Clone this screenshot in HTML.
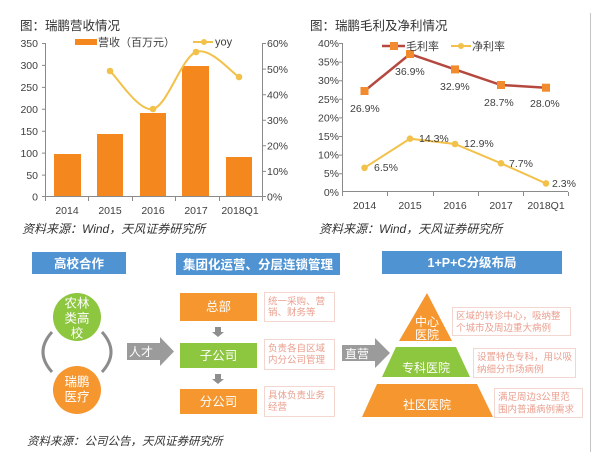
<!DOCTYPE html>
<html><head><meta charset="utf-8"><style>
html,body{margin:0;padding:0;background:#fff;}
svg{display:block;}
text{font-family:"Liberation Sans","Noto Sans CJK SC",sans-serif;}
.ax{font-size:10.5px;fill:#404040;}
.ttl{font-size:12.5px;fill:#333;}
.src{font-size:12px;fill:#333;font-style:italic;}
.dl{font-size:10.5px;fill:#404040;}
.hd{font-size:12.5px;fill:#fff;font-weight:bold;}
.bx{font-size:12.5px;fill:#fff;}
.ds{font-size:9.5px;fill:#eaa090;}
</style></head><body>
<svg width="606" height="470" viewBox="0 0 606 470" xmlns="http://www.w3.org/2000/svg">
<rect width="606" height="470" fill="#fff"/>
<!-- right separator -->
<line x1="590.5" y1="13" x2="590.5" y2="452" stroke="#c4c4c4" stroke-width="1"/>

<!-- ============ Chart 1 ============ -->
<text class="ttl" x="20" y="30">图：瑞鹏营收情况</text>
<!-- bars -->
<g fill="#F5871F">
<rect x="54" y="154" width="27" height="42.5"/>
<rect x="97" y="134" width="26" height="62.5"/>
<rect x="140" y="113" width="26" height="83.5"/>
<rect x="182" y="66" width="27" height="130.5"/>
<rect x="226" y="157" width="26" height="39.5"/>
</g>
<!-- axes -->
<g stroke="#8a8a8a" stroke-width="1" fill="none">
<line x1="45.5" y1="43" x2="45.5" y2="197"/>
<line x1="45" y1="196.5" x2="262" y2="196.5"/>
<line x1="262.5" y1="43" x2="262.5" y2="197"/>
<path d="M42 43.5H45 M42 65.4H45 M42 87.4H45 M42 109.3H45 M42 131.2H45 M42 153.1H45 M42 175.1H45 M42 196.5H45"/>
<path d="M262 43.5H266 M262 69.1H266 M262 94.7H266 M262 120.3H266 M262 145.8H266 M262 171.4H266 M262 196.5H266"/>
<path d="M45.5 197V201 M88.5 197V201 M132.5 197V201 M175.5 197V201 M219.5 197V201 M262.5 197V201"/>
</g>
<g class="ax" text-anchor="end">
<text x="38" y="47">350</text><text x="38" y="69">300</text><text x="38" y="91">250</text>
<text x="38" y="113">200</text><text x="38" y="135">150</text><text x="38" y="157">100</text>
<text x="38" y="179">50</text><text x="38" y="200.5">0</text>
</g>
<g class="ax">
<text x="267" y="47">60%</text><text x="267" y="73">50%</text><text x="267" y="98.5">40%</text>
<text x="267" y="124">30%</text><text x="267" y="149.5">20%</text><text x="267" y="175">10%</text>
<text x="267" y="200.5">0%</text>
</g>
<g class="ax" text-anchor="middle">
<text x="67" y="214">2014</text><text x="110" y="214">2015</text><text x="153" y="214">2016</text>
<text x="196" y="214">2017</text><text x="240" y="214">2018Q1</text>
</g>
<!-- yoy curve -->
<path d="M110 71 C117.2 77.3 138.7 112.2 153 109 C167.3 105.8 181.7 57.3 196 52 C210.3 46.7 231.8 72.8 239 77" fill="none" stroke="#F2C14A" stroke-width="2"/>
<g fill="#F2C14A">
<circle cx="110" cy="71" r="3.3"/><circle cx="153" cy="109" r="3.3"/>
<circle cx="196" cy="52" r="3.3"/><circle cx="239" cy="77" r="3.3"/>
</g>
<!-- legend -->
<rect x="75" y="39" width="22" height="6" fill="#F5871F"/>
<text class="ax" x="98" y="46" style="font-size:11px">营收（百万元）</text>
<line x1="193" y1="42" x2="213" y2="42" stroke="#F2C14A" stroke-width="2"/>
<circle cx="204" cy="42" r="3" fill="#F2C14A"/>
<text class="ax" x="215" y="45.5" style="font-size:11px">yoy</text>
<text class="src" x="22" y="233">资料来源：Wind，天风证券研究所</text>

<!-- ============ Chart 2 ============ -->
<text class="ttl" x="310" y="30">图：瑞鹏毛利及净利情况</text>
<g stroke="#8a8a8a" stroke-width="1" fill="none">
<line x1="342.5" y1="43" x2="342.5" y2="192"/>
<line x1="342" y1="191.5" x2="568" y2="191.5"/>
<path d="M339 43.5H342 M339 62.1H342 M339 80.7H342 M339 99.3H342 M339 117.9H342 M339 136.5H342 M339 155.1H342 M339 173.7H342"/>
<path d="M342.5 192V196 M387.5 192V196 M433.5 192V196 M478.5 192V196 M523.5 192V196 M568.5 192V196"/>
</g>
<g class="ax" text-anchor="end">
<text x="339" y="47">40%</text><text x="339" y="65.6">35%</text><text x="339" y="84.2">30%</text>
<text x="339" y="102.8">25%</text><text x="339" y="121.4">20%</text><text x="339" y="140">15%</text>
<text x="339" y="158.6">10%</text><text x="339" y="177.2">5%</text><text x="339" y="195.8">0%</text>
</g>
<g class="ax" text-anchor="middle">
<text x="364.5" y="209">2014</text><text x="410" y="209">2015</text><text x="455" y="209">2016</text>
<text x="501" y="209">2017</text><text x="546" y="209">2018Q1</text>
</g>
<!-- gross margin -->
<polyline points="364.5,91 410,54 455,69.4 501,85 546,87.7" fill="none" stroke="#B5493F" stroke-width="2.5"/>
<g fill="#F28A2E">
<rect x="360.5" y="87" width="8" height="8"/><rect x="406" y="50" width="8" height="8"/>
<rect x="451" y="65.4" width="8" height="8"/><rect x="497" y="81" width="8" height="8"/>
<rect x="542" y="83.7" width="8" height="8"/>
</g>
<!-- net margin -->
<polyline points="364.5,167.8 410,138.7 455,144 501,163.3 546,183.4" fill="none" stroke="#F2C14A" stroke-width="2"/>
<g fill="#F2C14A">
<circle cx="364.5" cy="167.8" r="3.3"/><circle cx="410" cy="138.7" r="3.3"/><circle cx="455" cy="144" r="3.3"/>
<circle cx="501" cy="163.3" r="3.3"/><circle cx="546" cy="183.4" r="3.3"/>
</g>
<g class="dl">
<text x="350" y="112">26.9%</text><text x="395" y="75">36.9%</text><text x="440" y="90">32.9%</text>
<text x="484" y="106">28.7%</text><text x="530" y="107">28.0%</text>
<text x="374" y="171">6.5%</text><text x="419" y="142">14.3%</text><text x="464" y="147">12.9%</text>
<text x="509" y="167">7.7%</text><text x="552" y="187">2.3%</text>
</g>
<!-- legend -->
<line x1="382" y1="46" x2="405" y2="46" stroke="#B5493F" stroke-width="2.5"/>
<rect x="390" y="42" width="8" height="8" fill="#F28A2E"/>
<text class="ax" x="406" y="50" style="font-size:11px">毛利率</text>
<line x1="451" y1="46" x2="471" y2="46" stroke="#F2C14A" stroke-width="2"/>
<circle cx="461" cy="46" r="3" fill="#F2C14A"/>
<text class="ax" x="472" y="50" style="font-size:11px">净利率</text>
<text class="src" x="319" y="233">资料来源：Wind，天风证券研究所</text>

<!-- ============ Bottom diagram ============ -->
<g fill="#4F93D3">
<rect x="32" y="252" width="94" height="22"/>
<rect x="176" y="253" width="164" height="22"/>
<rect x="382" y="251" width="180" height="23"/>
</g>
<g class="hd" text-anchor="middle">
<text x="79" y="268">高校合作</text>
<text x="258" y="269">集团化运营、分层连锁管理</text>
<text x="472" y="267">1+P+C分级布局</text>
</g>
<!-- circles -->
<path d="M52 332 Q34 352 52 372" fill="none" stroke="#8c8c8c" stroke-width="3"/>
<path d="M102 332 Q120 352 102 372" fill="none" stroke="#8c8c8c" stroke-width="3"/>
<circle cx="77" cy="317" r="24" fill="#8DC63F"/>
<circle cx="77" cy="390" r="24" fill="#F5962F"/>
<g class="bx" text-anchor="middle" style="font-size:12.5px">
<text x="77" y="307.5">农林</text><text x="77" y="322.5">类高</text><text x="77" y="337.5">校</text>
<text x="77" y="386">瑞鹏</text><text x="77" y="401">医疗</text>
</g>
<!-- 人才 arrow -->
<path d="M127 343 H160 V337 L174 351.5 L160 366 V360 H127 Z" fill="#9b9b9b"/>
<text class="bx" x="141" y="356" text-anchor="middle" style="font-size:12px">人才</text>
<!-- boxes -->
<rect x="180" y="293" width="77" height="28" fill="#F5962F"/>
<rect x="180" y="343" width="77" height="25" fill="#8DC63F"/>
<rect x="180" y="389" width="77" height="25" fill="#F5962F"/>
<path d="M215 327 h6 v5 h3 l-6 5 l-6 -5 h3 z" fill="#8e8e8e"/>
<path d="M215 374 h6 v5 h3 l-6 5 l-6 -5 h3 z" fill="#8e8e8e"/>
<g class="bx" text-anchor="middle">
<text x="218.5" y="311">总部</text><text x="218.5" y="360">子公司</text><text x="218.5" y="406">分公司</text>
</g>
<g fill="#fff" stroke="#f2d6cf" stroke-width="1">
<rect x="264.5" y="292.5" width="70" height="29"/>
<rect x="264.5" y="339.5" width="70" height="30"/>
<rect x="264.5" y="386.5" width="70" height="30"/>
</g>
<g class="ds">
<text x="268" y="304.5">统一采购、营</text><text x="268" y="315.5">销、财务等</text>
<text x="268" y="351.5">负责各自区域</text><text x="268" y="363">内分公司管理</text>
<text x="268" y="398.5">具体负责业务</text><text x="268" y="410">经营</text>
</g>
<!-- 直营 arrow -->
<path d="M342 345 H375 V338 L390 353 L375 368 V361 H342 Z" fill="#9b9b9b"/>
<text class="bx" x="357" y="358" text-anchor="middle" style="font-size:12px">直营</text>
<!-- pyramid -->
<path d="M427 293 L452 341 L399 341 Z" fill="#F5962F"/>
<path d="M396 347 L456 347 L470 377 L382 377 Z" fill="#8DC63F"/>
<path d="M377 384 L477 384 L493 417 L362 417 Z" fill="#F5962F"/>
<g class="bx" text-anchor="middle" style="font-size:12px">
<text x="427" y="326">中心</text><text x="427" y="339">医院</text>
<text x="426" y="372">专科医院</text>
<text x="427" y="409">社区医院</text>
</g>
<g fill="#fff" stroke="#f2d6cf" stroke-width="1">
<rect x="452.5" y="307.5" width="118" height="28"/>
<rect x="473.5" y="348.5" width="102" height="29"/>
<rect x="494.5" y="388.5" width="88" height="29"/>
</g>
<g class="ds">
<text x="456" y="319">区域的转诊中心，吸纳整</text><text x="456" y="331">个城市及周边重大病例</text>
<text x="477" y="360">设置特色专科，用以吸</text><text x="477" y="372.5">纳细分市场病例</text>
<text x="498" y="400">满足周边3公里范</text><text x="498" y="412.5">围内普通病例需求</text>
</g>
<text class="src" x="27" y="445" style="font-size:11.5px">资料来源：公司公告，天风证券研究所</text>
</svg>
</body></html>
